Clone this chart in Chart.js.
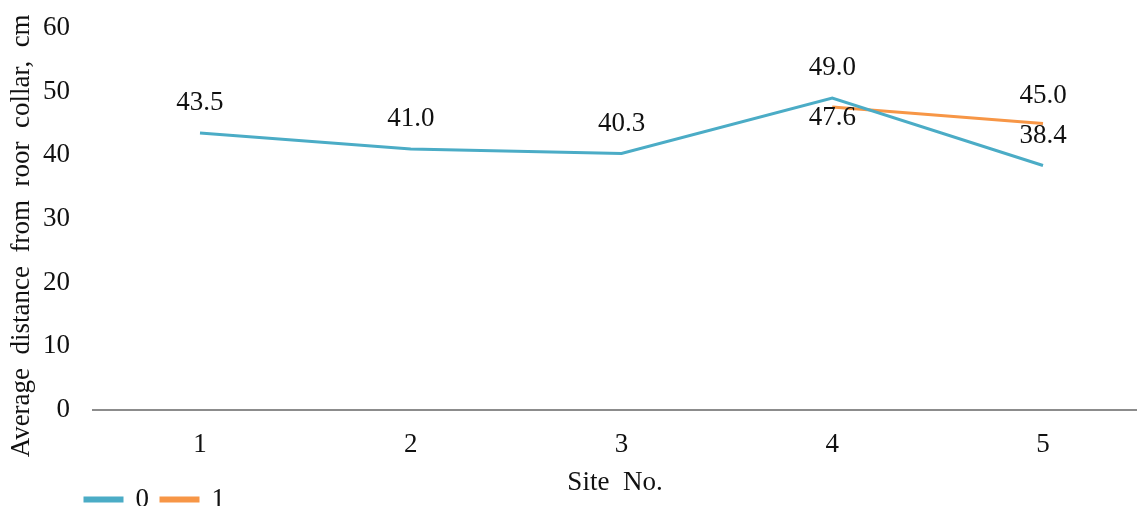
<!DOCTYPE html>
<html>
<head>
<meta charset="utf-8">
<script src="https://cdn.jsdelivr.net/npm/chart.js@4/dist/chart.umd.min.js"></script>
<style>
  html, body { margin: 0; padding: 0; background: #fff; }
  #wrap { width: 1137px; height: 506px; position: relative; }
</style>
</head>
<body>
<div id="wrap"><canvas id="grafico"></canvas></div>
<script>
// Datos
const sitios = [1, 2, 3, 4, 5];
const serie0 = [43.5, 41.0, 40.3, 49.0, 38.4];
const serie1 = [null, null, null, 47.6, 45.0];
const nombresSeries = ['0', '1'];
const ticksY = [0, 10, 20, 30, 40, 50, 60];

const FUENTE = "'Liberation Serif', 'Times New Roman', serif";

// Etiquetas de valor encima / debajo de cada punto
const etiquetasValor = {
  id: 'etiquetasValor',
  afterDatasetsDraw(chart, args, opts){
    const ctx = chart.ctx;
    ctx.save();
    ctx.font = '27px ' + FUENTE;
    ctx.fillStyle = '#111';
    ctx.textAlign = 'center';
    ctx.textBaseline = 'middle';
    chart.data.datasets.forEach((ds, i) => {
      const meta = chart.getDatasetMeta(i);
      const desp = opts.desplazamientos[i];
      meta.data.forEach((pt, j) => {
        const v = ds.data[j].y;
        if(v === null || v === undefined) return;
        ctx.fillText(v.toFixed(1), pt.x, pt.y + desp[j]);
      });
    });
    ctx.restore();
  }
};

// La leyenda no ocupa espacio en el layout; se coloca abajo a la izquierda
const posLeyenda = {
  id: 'posLeyenda',
  beforeLayout(chart){
    const lg = chart.legend;
    if(!lg || lg._sinAlto) return;
    const fitOriginal = lg.fit;
    lg.fit = function(){ fitOriginal.call(this); this.height = 0; };
    lg._sinAlto = true;
  },
  afterLayout(chart, args, opts){
    const lg = chart.legend;
    if(!lg) return;
    lg.left = opts.x; lg.right = chart.width;
    lg.top = opts.y; lg.bottom = chart.height;
  }
};

const ctx = document.getElementById('grafico').getContext('2d');
new Chart(ctx, {
  type: 'line',
  data: {
    datasets: [
      {
        label: nombresSeries[0],
        data: sitios.map((s, i) => ({ x: s, y: serie0[i] })),
        borderColor: '#4BACC6',
        backgroundColor: '#4BACC6',
        borderWidth: 3,
        pointRadius: 0,
        tension: 0
      },
      {
        label: nombresSeries[1],
        data: sitios.map((s, i) => ({ x: s, y: serie1[i] })),
        borderColor: '#F79646',
        backgroundColor: '#F79646',
        borderWidth: 3,
        pointRadius: 0,
        tension: 0
      }
    ]
  },
  options: {
    responsive: true,
    maintainAspectRatio: false,
    animation: false,
    layout: { padding: { top: 28, right: 0, bottom: 0, left: 0 } },
    plugins: {
      tooltip: { enabled: false },
      legend: {
        position: 'bottom',
        align: 'start',
        labels: {
          boxWidth: 37,
          boxHeight: 3,
          padding: 12,
          color: '#111',
          font: { family: FUENTE, size: 27 }
        }
      },
      posLeyenda: { x: 73, y: 474 },
      etiquetasValor: {
        desplazamientos: [
          [-30, -30, -30, -30, -30],
          [0, 0, 0, 11, -28]
        ]
      }
    },
    scales: {
      x: {
        type: 'linear',
        min: 0.4923,
        max: 5.446,
        afterFit: s => { s.height = 96; },
        afterBuildTicks: s => { s.ticks = sitios.map(v => ({ value: v })); },
        grid: { display: false, drawTicks: false },
        border: { display: true, color: '#8c8c8c', width: 2 },
        ticks: {
          padding: 19,
          color: '#111',
          font: { family: FUENTE, size: 27 }
        },
        title: {
          display: true,
          text: 'Site  No.',
          color: '#111',
          font: { family: FUENTE, size: 27 },
          padding: { top: 0, bottom: 7 }
        }
      },
      y: {
        min: 0,
        max: 60,
        afterFit: s => { s.width = 93; s.paddingTop = 10; s.paddingBottom = 10; },
        afterBuildTicks: s => { s.ticks = ticksY.map(v => ({ value: v })); },
        grid: { display: false, drawTicks: false },
        border: { display: false },
        ticks: {
          padding: 23,
          color: '#111',
          font: { family: FUENTE, size: 27 }
        },
        title: {
          display: true,
          text: 'Average  distance  from  roor  collar,  cm     ',
          color: '#111',
          font: { family: FUENTE, size: 27 },
          padding: { top: 6, bottom: 0 }
        }
      }
    }
  },
  plugins: [etiquetasValor, posLeyenda]
});
</script>
</body>
</html>
